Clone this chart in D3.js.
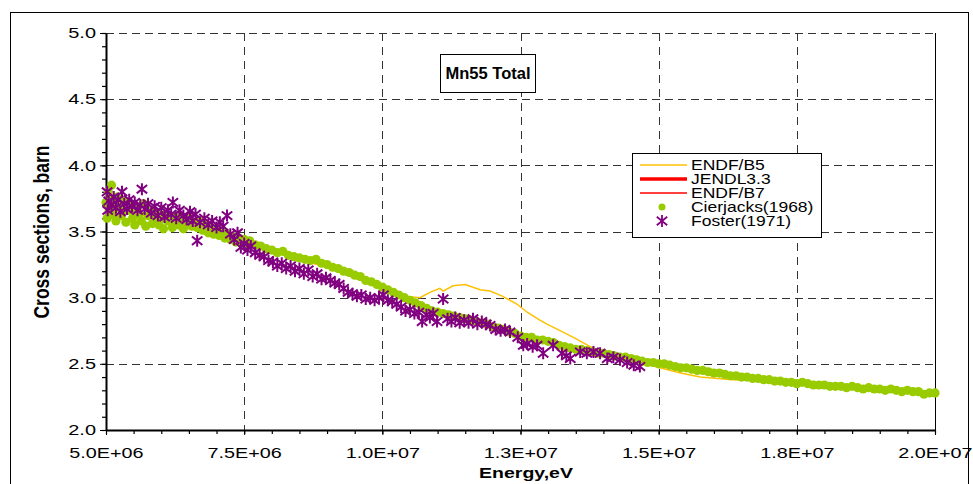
<!DOCTYPE html>
<html>
<head>
<meta charset="utf-8">
<script src="https://cdn.jsdelivr.net/npm/d3@7"></script>
<style>
  body { margin: 0; background: #fff; }
  text { font-family: "Liberation Sans", Arial, sans-serif; fill: #000; }
</style>
</head>
<body>
<script>
const width = 973,
  height = 484;
const margin = { top: 33, right: 38, bottom: 54, left: 106 };
const innerWidth = width - margin.left - margin.right;
const innerHeight = height - margin.top - margin.bottom;

// energies in MeV, cross sections in barn
const endfb5 = [
  [5, 3.7], [5.5, 3.64], [6, 3.6], [6.5, 3.56], [7, 3.5], [7.5, 3.43], [8, 3.36],
  [8.5, 3.29], [9, 3.23], [9.5, 3.16], [10, 3.07], [10.4, 3.01], [10.68, 3.0],
  [10.86, 3.04], [11.04, 3.07], [11.1, 3.05], [11.28, 3.09], [11.5, 3.1],
  [11.77, 3.06], [11.95, 3.05], [12.18, 3.01], [12.44, 2.95], [12.62, 2.89],
  [12.85, 2.83], [12.98, 2.8], [13.27, 2.74], [13.5, 2.69], [13.76, 2.63], [14.06, 2.58],
  [14.5, 2.53], [15.02, 2.47], [15.4, 2.43], [15.75, 2.4], [16.34, 2.38],
  [17, 2.37], [17.5, 2.36], [18, 2.34], [18.5, 2.32], [19, 2.3], [19.5, 2.29], [20, 2.27]
];
const jendl33 = [
  [5, 3.7], [5.5, 3.65], [6, 3.6], [6.5, 3.56], [7, 3.51], [7.5, 3.44], [8, 3.37],
  [8.5, 3.3], [9, 3.24], [9.5, 3.17], [10, 3.08], [10.5, 2.99], [11, 2.9],
  [11.5, 2.84], [12, 2.78], [12.5, 2.71], [13, 2.66], [13.5, 2.61], [14, 2.57],
  [14.5, 2.54], [15, 2.5], [15.5, 2.46], [16, 2.43], [16.5, 2.4], [17, 2.38],
  [17.5, 2.36], [18, 2.34], [18.5, 2.32], [19, 2.3], [19.5, 2.29], [20, 2.27]
];
const endfb7 = [
  [5, 3.71], [6, 3.61], [7, 3.5], [8, 3.36], [9, 3.23], [10, 3.07], [11, 2.9],
  [12, 2.78], [13, 2.66], [14, 2.57], [15, 2.49], [16, 2.43], [17, 2.38],
  [18, 2.34], [19, 2.3], [20, 2.26]
];
const cierjacks = [
  [5.0, 3.72], [5.02, 3.6], [5.04, 3.8], [5.06, 3.66], [5.08, 3.75], [5.1, 3.85], [5.12, 3.63],
  [5.15, 3.7], [5.18, 3.58], [5.2, 3.76], [5.24, 3.68], [5.28, 3.62], [5.32, 3.73], [5.36, 3.57],
  [5.4, 3.66], [5.44, 3.7], [5.48, 3.6], [5.52, 3.55], [5.56, 3.67], [5.6, 3.63], [5.64, 3.58],
  [5.68, 3.71], [5.72, 3.54], [5.76, 3.62], [5.8, 3.66], [5.84, 3.56], [5.88, 3.6], [5.92, 3.64],
  [5.96, 3.55], [6.0, 3.6], [6.04, 3.52], [6.08, 3.63], [6.12, 3.58], [6.16, 3.61], [6.2, 3.53],
  [6.24, 3.57], [6.28, 3.62], [6.32, 3.55], [6.36, 3.59], [6.4, 3.52], [6.45, 3.58], [6.5, 3.61],
  [6.55, 3.54], [6.6, 3.57], [6.65, 3.53], [6.7, 3.58], [6.75, 3.51], [6.8, 3.55], [6.85, 3.49],
  [6.9, 3.53], [6.95, 3.48], [7.0, 3.52], [7.05, 3.47], [7.1, 3.5], [7.15, 3.45], [7.2, 3.48],
  [7.25, 3.44], [7.3, 3.46], [7.35, 3.42], [7.4, 3.45], [7.45, 3.43], [7.5, 3.44], [7.55, 3.41],
  [7.6, 3.43], [7.7, 3.4], [7.8, 3.39], [7.9, 3.37], [8.0, 3.36], [8.1, 3.34], [8.2, 3.35],
  [8.3, 3.32], [8.4, 3.31], [8.5, 3.3], [8.6, 3.29], [8.7, 3.28], [8.8, 3.29], [8.9, 3.26],
  [9.0, 3.25], [9.1, 3.23], [9.2, 3.22], [9.3, 3.2], [9.4, 3.19], [9.5, 3.17], [9.6, 3.16],
  [9.7, 3.13], [9.8, 3.12], [9.9, 3.1], [10.0, 3.08], [10.1, 3.06], [10.2, 3.04], [10.3, 3.02],
  [10.4, 3.0], [10.5, 2.98], [10.6, 2.96], [10.7, 2.94], [10.8, 2.92], [10.9, 2.9], [11.0, 2.89],
  [11.1, 2.88], [11.2, 2.87], [11.3, 2.86], [11.4, 2.85], [11.5, 2.84], [11.6, 2.83], [11.7, 2.82],
  [11.8, 2.81], [11.9, 2.8], [12.0, 2.78], [12.1, 2.77], [12.2, 2.76], [12.3, 2.74], [12.4, 2.73],
  [12.5, 2.71], [12.6, 2.7], [12.7, 2.7], [12.8, 2.68], [12.9, 2.68], [13.0, 2.67], [13.1, 2.66],
  [13.2, 2.64], [13.3, 2.63], [13.4, 2.62], [13.5, 2.61], [13.6, 2.61], [13.7, 2.6], [13.8, 2.59],
  [13.9, 2.58], [14.0, 2.58], [14.1, 2.57], [14.2, 2.56], [14.3, 2.55], [14.4, 2.55], [14.5, 2.54],
  [14.6, 2.53], [14.7, 2.52], [14.8, 2.51], [14.9, 2.51], [15.0, 2.5], [15.1, 2.5], [15.2, 2.49],
  [15.3, 2.48], [15.4, 2.47], [15.5, 2.47], [15.6, 2.46], [15.7, 2.45], [15.8, 2.45], [15.9, 2.44],
  [16.0, 2.43], [16.1, 2.43], [16.2, 2.42], [16.3, 2.41], [16.4, 2.41], [16.5, 2.4], [16.6, 2.4],
  [16.7, 2.39], [16.8, 2.39], [16.9, 2.38], [17.0, 2.38], [17.1, 2.37], [17.2, 2.37], [17.3, 2.36],
  [17.4, 2.36], [17.5, 2.35], [17.6, 2.36], [17.7, 2.35], [17.8, 2.34], [17.9, 2.34], [18.0, 2.34],
  [18.1, 2.33], [18.2, 2.33], [18.3, 2.33], [18.4, 2.32], [18.5, 2.33], [18.6, 2.32], [18.7, 2.31],
  [18.8, 2.32], [18.9, 2.31], [19.0, 2.31], [19.1, 2.3], [19.2, 2.31], [19.3, 2.3], [19.4, 2.29],
  [19.5, 2.3], [19.6, 2.29], [19.7, 2.29], [19.8, 2.27], [19.9, 2.28], [20.0, 2.28]
];
const foster = [
  [5.02, 3.8], [5.03, 3.66], [5.05, 3.73], [5.1, 3.7], [5.14, 3.76], [5.18, 3.68], [5.22, 3.74],
  [5.26, 3.65], [5.29, 3.8], [5.33, 3.71], [5.38, 3.67], [5.42, 3.74], [5.47, 3.69], [5.52, 3.72],
  [5.57, 3.66], [5.62, 3.7], [5.65, 3.82], [5.7, 3.67], [5.76, 3.71], [5.82, 3.64], [5.88, 3.69],
  [5.94, 3.62], [6.0, 3.68], [6.06, 3.61], [6.12, 3.66], [6.18, 3.63], [6.21, 3.72], [6.27, 3.6],
  [6.33, 3.66], [6.4, 3.62], [6.46, 3.59], [6.52, 3.65], [6.57, 3.58], [6.62, 3.63], [6.65, 3.43],
  [6.7, 3.57], [6.78, 3.6], [6.85, 3.55], [6.92, 3.58], [7.0, 3.53], [7.06, 3.57], [7.12, 3.54],
  [7.19, 3.62], [7.25, 3.48], [7.32, 3.44], [7.38, 3.49], [7.44, 3.38], [7.5, 3.41], [7.56, 3.36],
  [7.62, 3.39], [7.7, 3.34], [7.78, 3.32], [7.86, 3.31], [7.94, 3.28], [8.02, 3.27], [8.1, 3.24],
  [8.18, 3.26], [8.26, 3.22], [8.34, 3.24], [8.42, 3.2], [8.5, 3.22], [8.58, 3.18], [8.66, 3.21],
  [8.74, 3.16], [8.82, 3.18], [8.9, 3.14], [8.98, 3.15], [9.06, 3.13], [9.14, 3.11], [9.22, 3.1],
  [9.3, 3.07], [9.38, 3.04], [9.46, 3.03], [9.54, 3.01], [9.62, 3.02], [9.7, 2.99], [9.78, 3.0],
  [9.86, 2.98], [9.94, 3.0], [10.02, 3.02], [10.1, 2.98], [10.18, 2.97], [10.26, 2.95], [10.34, 2.93],
  [10.42, 2.9], [10.5, 2.91], [10.58, 2.88], [10.66, 2.89], [10.72, 2.82], [10.8, 2.87], [10.86, 2.85],
  [10.92, 2.88], [10.99, 2.82], [11.1, 2.99], [11.18, 2.84], [11.25, 2.82], [11.32, 2.85], [11.4, 2.81],
  [11.48, 2.83], [11.56, 2.81], [11.64, 2.84], [11.72, 2.8], [11.8, 2.82], [11.88, 2.8], [11.95, 2.79],
  [12.05, 2.76], [12.14, 2.75], [12.22, 2.76], [12.31, 2.74], [12.45, 2.7], [12.55, 2.64], [12.62, 2.65],
  [12.72, 2.63], [12.8, 2.64], [12.91, 2.58], [13.09, 2.64], [13.25, 2.58], [13.33, 2.56], [13.4, 2.54],
  [13.58, 2.59], [13.7, 2.58], [13.82, 2.59], [13.94, 2.58], [14.07, 2.54], [14.18, 2.55], [14.3, 2.53],
  [14.43, 2.51], [14.55, 2.49], [14.66, 2.48]
];

const xTicks = [5e6, 7.5e6, 1e7, 1.25e7, 1.5e7, 1.75e7, 2e7];
const yTicks = [2.0, 2.5, 3.0, 3.5, 4.0, 4.5, 5.0];

const legendItems = [
  { name: "ENDF/B5", type: "line", color: "#FFC000", w: 1.5 },
  { name: "JENDL3.3", type: "line", color: "#FF0000", w: 3.5 },
  { name: "ENDF/B7", type: "line", color: "#FF0000", w: 1.5 },
  { name: "Cierjacks(1968)", type: "dot", color: "#99CC00" },
  { name: "Foster(1971)", type: "star", color: "#800080" }
];

// E+06 style labels
const expFormat = d => {
  const [m, e] = d.toExponential(1).split("e");
  return m + "E" + e[0] + e.slice(1).padStart(2, "0");
};

// the picture is a bit wider than tall, so text is stretched
function stretch(sel, sx) {
  sel.each(function() {
    const t = d3.select(this);
    const x = +t.attr("x") || 0;
    const y = +t.attr("y") || 0;
    t.attr("x", 0).attr("y", 0)
      .attr("transform", `translate(${x},${y}) scale(${sx},1)`);
  });
}

const xScale = d3.scaleLinear().domain([5e6, 2e7]).range([0, innerWidth]);
const yScale = d3.scaleLinear().domain([2, 5]).range([innerHeight, 0]);

const svg = d3.select("body").append("svg")
  .attr("width", width)
  .attr("height", height);

// outer chart frame
svg.append("rect")
  .attr("x", 10.5).attr("y", 12.5)
  .attr("width", 958).attr("height", 490)
  .attr("fill", "none").attr("stroke", "#000").attr("stroke-width", 1);

const g = svg.append("g")
  .attr("transform", `translate(${margin.left},${margin.top})`);

// grid
g.append("g").selectAll("line").data(yTicks.slice(1)).join("line")
  .attr("x1", 0).attr("x2", innerWidth)
  .attr("y1", d => Math.round(yScale(d)) + 0.5).attr("y2", d => Math.round(yScale(d)) + 0.5)
  .attr("stroke", "#333").attr("stroke-dasharray", "8,5");
g.append("g").selectAll("line").data(xTicks.slice(1, -1)).join("line")
  .attr("y1", 0).attr("y2", innerHeight)
  .attr("x1", d => Math.round(xScale(d)) + 0.5).attr("x2", d => Math.round(xScale(d)) + 0.5)
  .attr("stroke", "#333").attr("stroke-dasharray", "8,6");

// right border of plot area
g.append("line")
  .attr("x1", innerWidth + 0.5).attr("x2", innerWidth + 0.5)
  .attr("y1", 0).attr("y2", innerHeight)
  .attr("stroke", "#000");

// minor ticks
g.append("g")
  .attr("transform", `translate(0,${innerHeight})`)
  .call(d3.axisBottom(xScale).tickValues(d3.range(5e6, 2e7 + 1, 5e5)).tickSize(4).tickFormat(""))
  .call(a => a.select(".domain").remove())
  .selectAll("line").attr("stroke-width", 1.2);
g.append("g")
  .call(d3.axisLeft(yScale).tickValues(d3.range(20, 51).map(d => d / 10)).tickSize(4).tickFormat(""))
  .call(a => a.select(".domain").remove())
  .selectAll("line").attr("stroke-width", 1.2);

// main axes
const xAxis = g.append("g")
  .attr("transform", `translate(0,${innerHeight})`)
  .call(d3.axisBottom(xScale).tickValues(xTicks).tickSize(5).tickSizeOuter(0).tickFormat(expFormat));
xAxis.select(".domain").attr("stroke-width", 2);
xAxis.selectAll("text")
  .attr("y", 28).attr("dy", 0)
  .style("font-size", "15px");
stretch(xAxis.selectAll("text"), 1.32);

const yAxis = g.append("g")
  .call(d3.axisLeft(yScale).tickValues(yTicks).tickSize(6).tickSizeOuter(0).tickFormat(d3.format(".1f")));
yAxis.select(".domain").attr("stroke-width", 2);
yAxis.selectAll("text")
  .attr("x", -10)
  .style("font-size", "15px");
stretch(yAxis.selectAll("text"), 1.33);

// model curves
const line = d3.line()
  .x(d => xScale(d[0] * 1e6))
  .y(d => yScale(d[1]));

g.append("path").datum(endfb7)
  .attr("d", line).attr("fill", "none")
  .attr("stroke", "#FF0000").attr("stroke-width", 1.5);
g.append("path").datum(jendl33)
  .attr("d", line).attr("fill", "none")
  .attr("stroke", "#FF0000").attr("stroke-width", 2.5);
g.append("path").datum(endfb5)
  .attr("d", line).attr("fill", "none")
  .attr("stroke", "#FFC000").attr("stroke-width", 1.5);

// Cierjacks dots
g.append("g").selectAll("circle").data(cierjacks).join("circle")
  .attr("cx", d => xScale(d[0] * 1e6))
  .attr("cy", d => yScale(d[1]))
  .attr("r", 4.6)
  .attr("fill", "#99CC00");

// Foster asterisks
const star = "M0,-6V6M-5.2,-4.2L5.2,4.2M-5.2,4.2L5.2,-4.2";
g.append("g").selectAll("path").data(foster).join("path")
  .attr("transform", d => `translate(${xScale(d[0] * 1e6)},${yScale(d[1])})`)
  .attr("d", star)
  .attr("fill", "none")
  .attr("stroke", "#800080")
  .attr("stroke-width", 2);

// axis titles
svg.append("text")
  .attr("transform", "translate(49,232) scale(1.25,1) rotate(-90)")
  .attr("text-anchor", "middle")
  .style("font-size", "17.5px")
  .style("font-weight", "bold")
  .text("Cross sections, barn");

svg.append("text")
  .attr("transform", "translate(526,478) scale(1.3,1)")
  .attr("text-anchor", "middle")
  .style("font-size", "15px")
  .style("font-weight", "bold")
  .text("Energy,eV");

// title box
svg.append("rect")
  .attr("x", 440.5).attr("y", 54.5)
  .attr("width", 95).attr("height", 38)
  .attr("fill", "#fff").attr("stroke", "#000");
svg.append("text")
  .attr("x", 488).attr("y", 79)
  .attr("text-anchor", "middle")
  .style("font-size", "16.5px")
  .style("font-weight", "bold")
  .text("Mn55 Total");

// legend
const legend = svg.append("g");
legend.append("rect")
  .attr("x", 632.5).attr("y", 153.5)
  .attr("width", 189).attr("height", 84)
  .attr("fill", "#fff").attr("stroke", "#000");
const rowY = d3.scalePoint().domain(legendItems.map(d => d.name)).range([165, 221]);
const rows = legend.selectAll("g.item").data(legendItems).join("g")
  .attr("class", "item")
  .attr("transform", d => `translate(0,${rowY(d.name)})`);
rows.filter(d => d.type === "line").append("line")
  .attr("x1", 640).attr("x2", 687).attr("y1", 0).attr("y2", 0)
  .attr("stroke", d => d.color).attr("stroke-width", d => d.w);
rows.filter(d => d.type === "dot").append("circle")
  .attr("cx", 662).attr("cy", 0).attr("r", 3.5)
  .attr("fill", d => d.color);
rows.filter(d => d.type === "star").append("path")
  .attr("transform", "translate(662,0)")
  .attr("d", star).attr("fill", "none")
  .attr("stroke", d => d.color).attr("stroke-width", 1.8);
rows.append("text")
  .attr("x", 691).attr("y", 5)
  .style("font-size", "14px")
  .text(d => d.name)
  .call(s => stretch(s, 1.25));
</script>
</body>
</html>
